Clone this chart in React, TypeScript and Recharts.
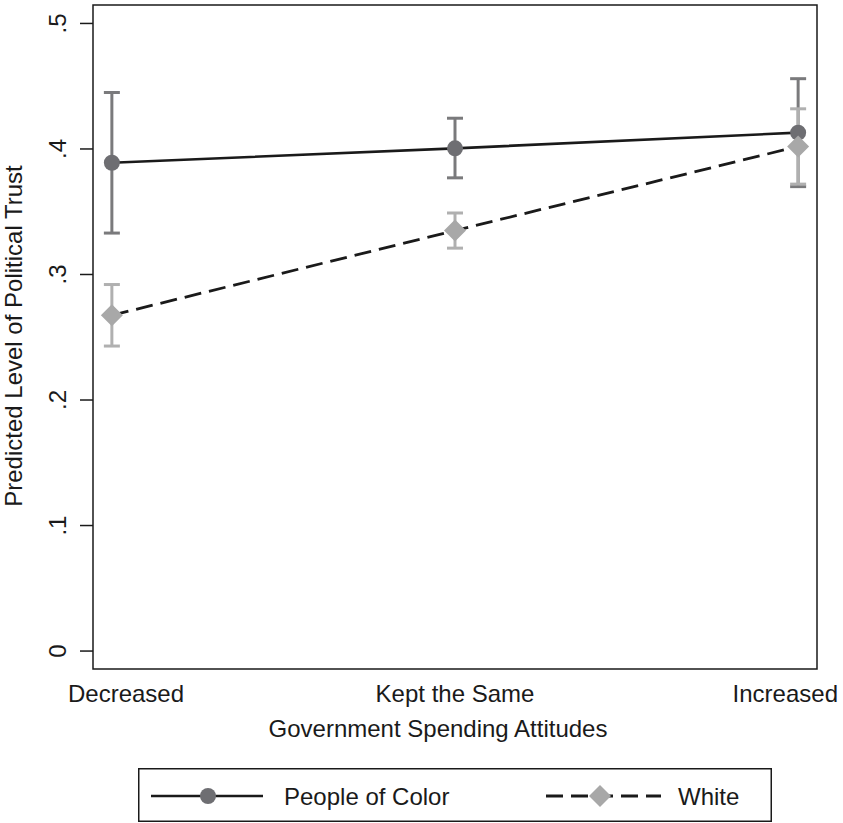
import React from 'react'
import { ComposedChart, Line, ErrorBar, XAxis, YAxis, ReferenceArea, Legend } from 'recharts'

const categories = ['Decreased', 'Kept the Same', 'Increased']

const pocMean = [0.389, 0.4005, 0.413]
const pocLow = [0.333, 0.377, 0.370]
const pocHigh = [0.445, 0.4245, 0.456]

const whiteMean = [0.2675, 0.335, 0.402]
const whiteLow = [0.243, 0.321, 0.372]
const whiteHigh = [0.292, 0.349, 0.432]

const yTicks = [0, 0.1, 0.2, 0.3, 0.4, 0.5]
const xTicks = [0, 1, 2]

const X_DOMAIN: [number, number] = [-0.055, 2.055]
const Y_DOMAIN: [number, number] = [-0.0143, 0.5147]

const FONT = '"Liberation Sans", Arial, Helvetica, sans-serif'
const INK = '#1a1a1a'
const POC_DOT = '#6e6e72'
const POC_BAR = '#7a7a7c'
const WHITE_DOT = '#a8a8a8'
const WHITE_BAR = '#b0b0b0'
const DASH = '17 8'

const rows = categories.map((c, i) => ({
  x: i,
  name: c,
  poc: pocMean[i],
  pocErr: [pocMean[i] - pocLow[i], pocHigh[i] - pocMean[i]],
  white: whiteMean[i],
  whiteErr: [whiteMean[i] - whiteLow[i], whiteHigh[i] - whiteMean[i]]
}))

function fmtY(v: number) {
  if (v === 0) return '0'
  return '.' + Math.round(v * 10)
}

function YTick({ y, payload }: any) {
  const bx = 66
  return (
    <text
      x={bx}
      y={y}
      transform={`rotate(-90, ${bx}, ${y})`}
      textAnchor="middle"
      fontSize={24}
      fontFamily={FONT}
      fill={INK}
    >
      {fmtY(payload.value)}
    </text>
  )
}

// stata pulls the outer labels inside the plot edges
function XTick({ x, y, payload, index }: any) {
  const last = categories.length - 1
  const anchor = index === 0 ? 'start' : index === last ? 'end' : 'middle'
  const tx = index === 0 ? 68 : index === last ? 838 : x
  return (
    <text x={tx} y={y + 17} textAnchor={anchor} fontSize={24} fontFamily={FONT} fill={INK}>
      {categories[payload.value]}
    </text>
  )
}

function CircleDot({ cx, cy, index }: any) {
  if (cx == null || cy == null) return <g key={`c${index}`} />
  return <circle key={`c${index}`} cx={cx} cy={cy} r={8} fill={POC_DOT} />
}

function DiamondDot({ cx, cy, index }: any) {
  if (cx == null || cy == null) return <g key={`d${index}`} />
  const h = 11
  return (
    <path
      key={`d${index}`}
      d={`M${cx},${cy - h} L${cx + h},${cy} L${cx},${cy + h} L${cx - h},${cy} Z`}
      fill={WHITE_DOT}
    />
  )
}

function LegendBox() {
  const y = 28
  return (
    <svg width={634} height={54} style={{ display: 'block' }}>
      <rect x={0.75} y={0.75} width={632.5} height={52.5} fill="#fff" stroke={INK} strokeWidth={1.5} />
      <line x1={13} y1={y} x2={125} y2={y} stroke={INK} strokeWidth={2.5} />
      <circle cx={70} cy={y} r={8} fill={POC_DOT} />
      <text x={146} y={y + 8.5} fontSize={24} fontFamily={FONT} fill={INK}>People of Color</text>
      <line x1={408} y1={y} x2={523} y2={y} stroke={INK} strokeWidth={2.8} strokeDasharray={DASH} />
      <path d={`M462,${y - 11} L473,${y} L462,${y + 11} L451,${y} Z`} fill={WHITE_DOT} />
      <text x={540} y={y + 8.5} fontSize={24} fontFamily={FONT} fill={INK}>White</text>
    </svg>
  )
}

export default function App() {
  return (
    <div style={{ position: 'absolute', left: 0, top: 0, width: 843, height: 823, background: '#fff' }}>
      <ComposedChart
        width={843}
        height={823}
        data={rows}
        margin={{ top: 5, right: 26, bottom: 1, left: 33 }}
      >
        <XAxis
          dataKey="x"
          type="number"
          domain={X_DOMAIN}
          ticks={xTicks}
          allowDataOverflow
          height={99}
          axisLine={false}
          tickLine={false}
          tickSize={0}
          tickMargin={16}
          tick={<XTick />}
          interval={0}
          label={{
            content: () => (
              <text x={438} y={737} textAnchor="middle" fontSize={24} fontFamily={FONT} fill={INK}>
                Government Spending Attitudes
              </text>
            )
          }}
        />
        <YAxis
          type="number"
          domain={Y_DOMAIN}
          ticks={yTicks}
          allowDataOverflow
          width={60}
          axisLine={false}
          tickSize={13}
          tickLine={{ stroke: INK, strokeWidth: 1.5 }}
          tick={<YTick />}
          interval={0}
          label={{
            content: () => (
              <text
                x={22}
                y={336}
                transform="rotate(-90, 22, 336)"
                textAnchor="middle"
                fontSize={24}
                fontFamily={FONT}
                fill={INK}
              >
                Predicted Level of Political Trust
              </text>
            )
          }}
        />
        <ReferenceArea
          x1={X_DOMAIN[0]}
          x2={X_DOMAIN[1]}
          y1={Y_DOMAIN[0]}
          y2={Y_DOMAIN[1]}
          fill="none"
          stroke={INK}
          strokeWidth={1.5}
          ifOverflow="visible"
        />
        <Line
          dataKey="poc"
          type="linear"
          stroke={INK}
          strokeWidth={2.6}
          dot={CircleDot}
          activeDot={false}
          isAnimationActive={false}
        >
          <ErrorBar dataKey="pocErr" direction="y" width={8} strokeWidth={3} stroke={POC_BAR} />
        </Line>
        <Line
          dataKey="white"
          type="linear"
          stroke={INK}
          strokeWidth={2.8}
          strokeDasharray={DASH}
          dot={DiamondDot}
          activeDot={false}
          isAnimationActive={false}
        >
          <ErrorBar dataKey="whiteErr" direction="y" width={8} strokeWidth={3} stroke={WHITE_BAR} />
        </Line>
        <Legend
          verticalAlign="bottom"
          content={<LegendBox />}
          wrapperStyle={{ left: 138, bottom: 1, width: 634, height: 54 }}
        />
      </ComposedChart>
    </div>
  )
}
